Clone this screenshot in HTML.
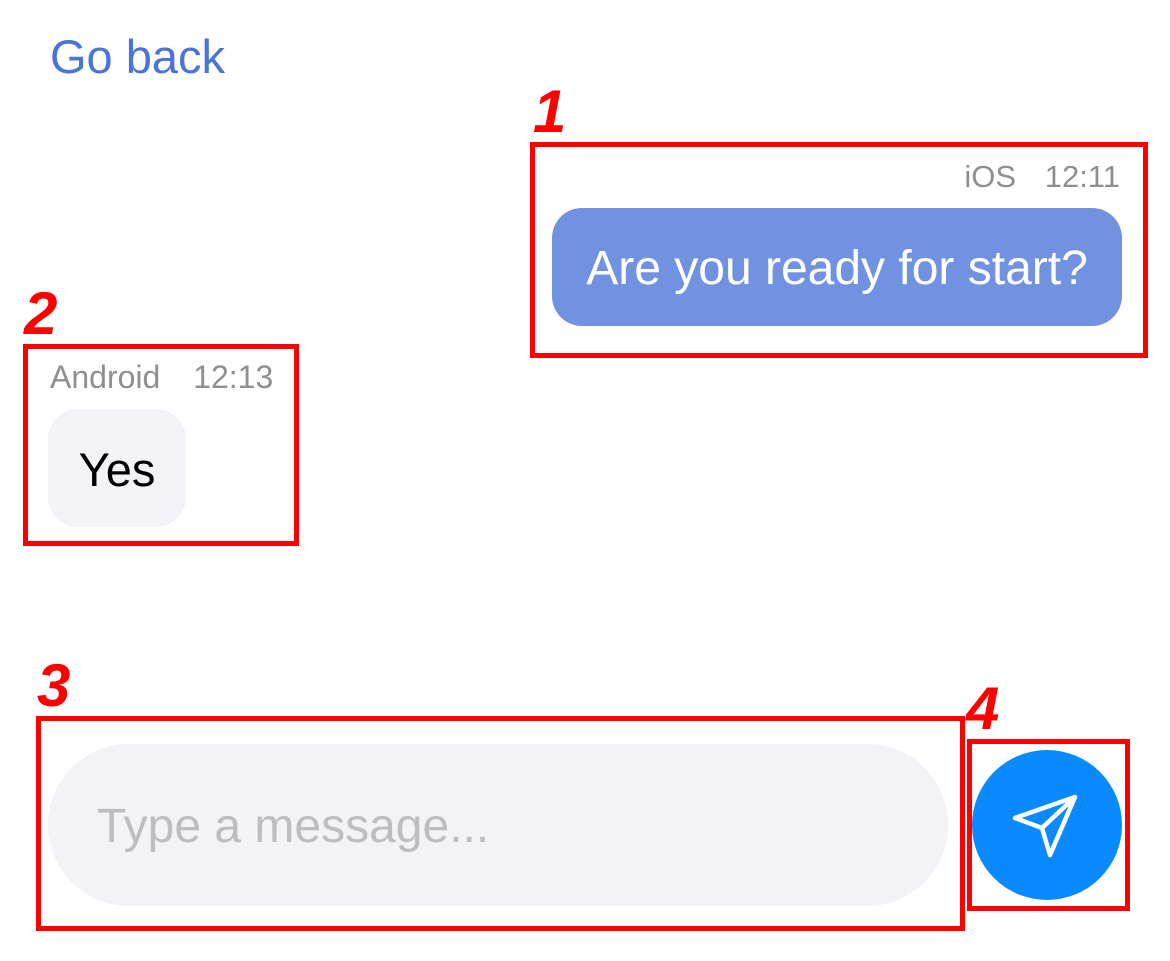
<!DOCTYPE html>
<html><head><style>
body{margin:0;width:1170px;height:961px;background:#fff;position:relative;overflow:hidden;font-family:"Liberation Sans",sans-serif}
.a{position:absolute}
.box{position:absolute;border:5px solid #ff0000;box-sizing:border-box}
.n{position:absolute;color:#ff0000;font-weight:bold;font-style:italic;font-size:60px;line-height:1}
</style></head><body>
<div class="a" style="left:50px;top:29px;font-size:47px;color:#4a74d9">Go back</div>

<div class="a" style="left:830px;top:159px;width:290px;text-align:right;font-size:31px;color:#8e8e93;word-spacing:20px">iOS 12:11</div>
<div class="a" style="left:552px;top:208px;width:570px;height:118px;border-radius:30px;background:#7092e0;color:#fff;font-size:48px;line-height:122px;text-align:center">Are you ready for start?</div>

<div class="a" style="left:50px;top:359px;font-size:32px;color:#8e8e93;word-spacing:24px">Android 12:13</div>
<div class="a" style="left:48px;top:409px;width:138px;height:118px;border-radius:30px;background:#f2f2f7;color:#000;font-size:47px;line-height:122px;text-align:center">Yes</div>

<div class="a" style="left:48px;top:744px;width:900px;height:162px;border-radius:81px;background:#f2f2f7"></div>
<div class="a" style="left:97px;top:799px;font-size:48px;color:#bcbcc1">Type a message...</div>

<div class="a" style="left:972px;top:750px;width:150px;height:150px;border-radius:50%;background:#0a8aff"></div>
<svg class="a" style="left:972px;top:750px" width="150" height="150">
<path d="M43 68 L103 47 L78 105 L70 78 Z M70 78 L103 47" fill="none" stroke="#fff" stroke-width="4.5" stroke-linejoin="round" stroke-linecap="round"/>
</svg>

<div class="box" style="left:530px;top:142px;width:618px;height:216px"></div>
<div class="box" style="left:23px;top:344px;width:276px;height:202px"></div>
<div class="box" style="left:36px;top:716px;width:929px;height:215px"></div>
<div class="box" style="left:967px;top:739px;width:163px;height:172px"></div>

<div class="n" style="left:533px;top:82px">1</div>
<div class="n" style="left:24px;top:284px">2</div>
<div class="n" style="left:37px;top:656px">3</div>
<div class="n" style="left:966px;top:679px">4</div>
</body></html>
